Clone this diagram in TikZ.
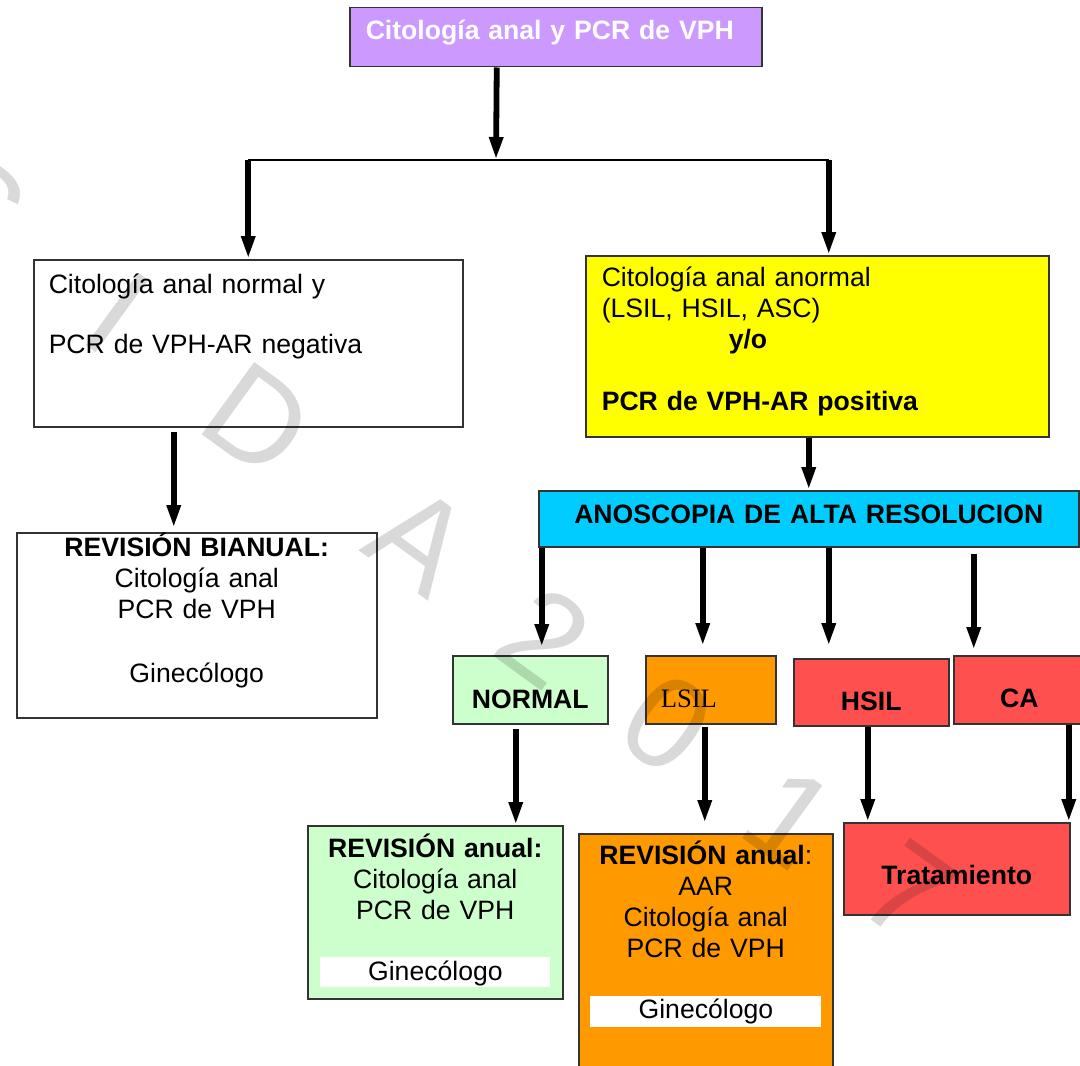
\documentclass[tikz,border=0pt]{standalone}
\usepackage{fontspec}
\setmainfont{Liberation Sans}
\newfontfamily\fuenteserif{Liberation Serif}
\usetikzlibrary{arrows.meta}

\definecolor{morado}{HTML}{CC99FF}
\definecolor{amarillo}{HTML}{FFFF00}
\definecolor{celeste}{HTML}{00CCFF}
\definecolor{verdeclaro}{HTML}{CCFFCC}
\definecolor{naranja}{HTML}{FF9900}
\definecolor{rojo}{HTML}{FF5050}

\begin{document}
\begin{tikzpicture}[
            x=0.5pt, y=-0.5pt,
            caja/.style = {rectangle, draw=black!80, line width=0.75pt, anchor=north west, inner xsep=0pt, inner ysep=0pt, align=center, font=\fontsize{13.3pt}{15.5pt}\selectfont},
            blanco/.style = {rectangle, fill=white, anchor=north west, inner sep=0pt, align=center, font=\fontsize{13.3pt}{15.5pt}\selectfont},
            flecha/.style = {line width=2.9pt, -{Triangle[length=11.5pt,width=6.5pt]}},
            linea/.style = {line width=1pt},
            marca/.style = {text=black, opacity=0.15, rotate=-36, inner sep=0pt, font=\fontsize{65pt}{66pt}\selectfont}
        ]
        \useasboundingbox (0,0) rectangle (1080,1065);
        \clip (0,0) rectangle (1080,1065);

        % Nodo inicial
        \node [caja, fill=morado, text=white, align=left, inner xsep=8pt, text width=190pt, text height=16pt, text depth=13.5pt] (inicio) at (349,7) {\textbf{Citología anal y PCR de VPH}};

        % Resultados de citología y PCR
        \node [caja, align=left, inner xsep=7.5pt, text width=199.5pt, text height=17pt, text depth=66.5pt] (negativa) at (33,259) {Citología anal normal y\\[14.5pt]PCR de VPH-AR negativa};
        \node [caja, fill=amarillo, align=left, inner xsep=8pt, text width=215.5pt, text height=15.5pt, text depth=75pt] (positiva) at (585,255) {Citología anal anormal\\(LSIL, HSIL, ASC)\\\hspace*{63.5pt}\textbf{y/o}\\[15.5pt]\textbf{PCR de VPH-AR positiva}};

        \node [caja, text width=180pt, text height=12pt, text depth=80.5pt] (bianual) at (16,532) {\textbf{REVISIÓN BIANUAL:}\\Citología anal\\PCR de VPH\\[16.5pt]Ginecólogo};
        \node [caja, fill=celeste, text width=270pt, text height=16.5pt, text depth=11.5pt] (anoscopia) at (538,490) {\textbf{ANOSCOPIA DE ALTA RESOLUCION}};

        % Hallazgos de la anoscopia
        \node [caja, fill=verdeclaro, text width=77.5pt, text height=26.5pt, text depth=7.5pt] (normal) at (452,655) {\textbf{NORMAL}};
        \node [caja, fill=naranja, align=left, inner xsep=7.5pt, text width=50pt, text height=26pt, text depth=8pt] (lsil) at (645,655) {\fuenteserif LSIL};
        \node [caja, fill=rojo, text width=77.5pt, text height=26pt, text depth=7.5pt] (hsil) at (793,658) {\textbf{HSIL}};
        \node [caja, fill=rojo, text width=65.5pt, text height=26pt, text depth=8pt] (ca) at (953,655) {\textbf{CA}};

        % Seguimiento
        \node [caja, fill=verdeclaro, text width=127.5pt, text height=16pt, text depth=70.5pt] (anual) at (307,825) {\textbf{REVISIÓN anual:}\\Citología anal\\PCR de VPH};
        \node [caja, fill=naranja, text width=127pt, text height=15.5pt, text depth=103pt] (anualaar) at (578,833) {\textbf{REVISIÓN anual}:\\AAR\\Citología anal\\PCR de VPH};
        \node [caja, fill=rojo, text width=113pt, text height=31pt, text depth=15pt] (tratamiento) at (843,822) {\textbf{Tratamiento}};
        \node [blanco, text width=115pt, text height=11.5pt, text depth=3.5pt] (gin1) at (320,957) {Ginecólogo};
        \node [blanco, text width=115.5pt, text height=11pt, text depth=4.5pt] (gin2) at (590,996) {Ginecólogo};

        % Flechas de flujo
        \coordinate (bif) at (496,160);
        \coordinate (izq) at (negativa.north |- bif);
        \coordinate (der) at ([xshift=5.75pt]positiva.north |- bif);
        \draw [flecha] ([xshift=-29.5pt]inicio.south) -- (bif);
        \draw [linea] (izq) -- (der);
        \draw [flecha] (izq) -- (negativa.north);
        \draw [flecha] (der) -- ([xshift=5.75pt]positiva.north);
        \draw [flecha] ([xshift=-37.25pt]negativa.south) ++(0,-2pt) -- ([xshift=-11.5pt,yshift=2pt]bianual.north);
        \draw [flecha] (positiva.south -| anoscopia.north) -- (anoscopia.north);

        \draw [flecha, shorten >=4pt] ([xshift=-133.5pt]anoscopia.south) -- ([xshift=5.75pt]normal.north);
        \draw [flecha, shorten >=4.5pt] ([xshift=-53pt]anoscopia.south) -- ([xshift=-4pt]lsil.north);
        \draw [flecha, shorten >=6pt] ([xshift=10pt]anoscopia.south) -- ([xshift=-21.25pt]hsil.north);
        \draw [flecha, shorten <=3pt, shorten >=2.5pt] ([xshift=82.5pt]anoscopia.south) -- ([xshift=-22.75pt]ca.north);

        \draw [flecha, shorten <=2pt] ([xshift=-7.25pt]normal.south) -- ([xshift=40.25pt]anual.north);
        \draw [flecha, shorten <=1pt, shorten >=5pt] ([xshift=-3pt]lsil.south) -- ([xshift=-0.5pt]anualaar.north);
        \draw [flecha] ([xshift=-1.75pt]hsil.south) -- ([xshift=-44.5pt]tratamiento.north);
        \draw [flecha] ([xshift=24.75pt]ca.south) -- ([xshift=56pt]tratamiento.north);

        % Marca de agua
        \foreach \car/\px/\py [count=\i] in {S/-25/205, I/117/313, D/258/420, A/420/540, 2/544/637, 0/667/724, 1/790/818, 7/908/892}
            \node [marca] (marca\i) at (\px,\py) {\car};

    \end{tikzpicture}
\end{document}
